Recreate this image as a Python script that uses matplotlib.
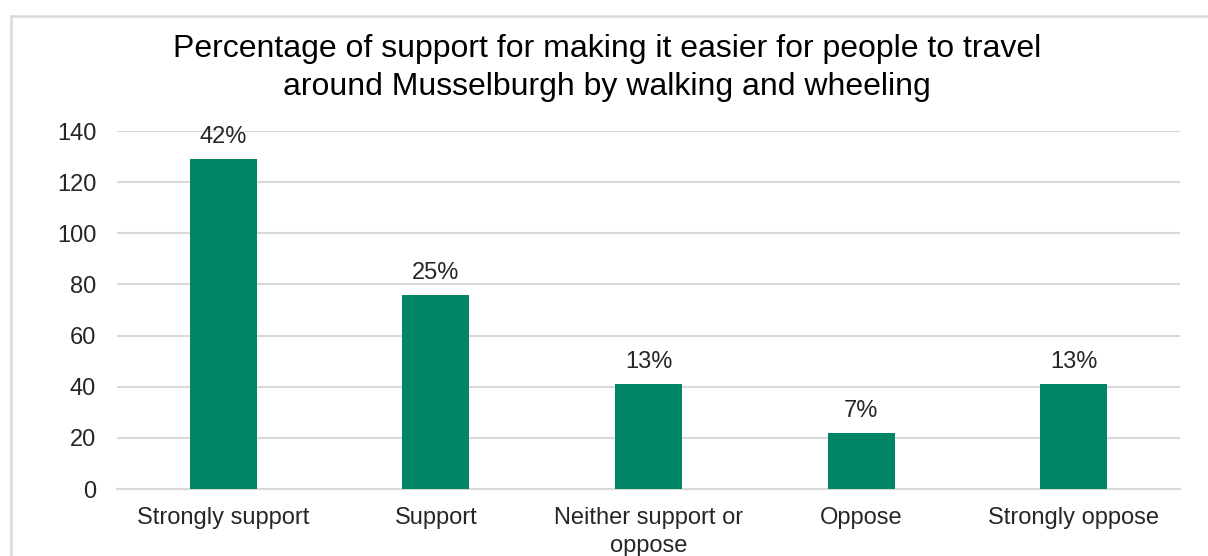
import matplotlib
matplotlib.use("Agg")
import matplotlib.pyplot as plt
from matplotlib.patches import Rectangle

plt.rcParams['font.family'] = ['Liberation Sans', 'DejaVu Sans']

categories = ["Strongly support", "Support", "Neither support or\noppose",
              "Oppose", "Strongly oppose"]
counts = [129, 76, 41, 22, 41]
pct_labels = ["42%", "25%", "13%", "7%", "13%"]
yticks = [0, 20, 40, 60, 80, 100, 120, 140]

W, H = 1208, 556
fig = plt.figure(figsize=(W / 100, H / 100), dpi=100)

# chart frame, cut off at the right and bottom
fig.patches.append(Rectangle((11 / W, -0.1), 1.2, 1.1 - 16 / H,
                             transform=fig.transFigure, fill=False,
                             edgecolor="#d9d9d9", linewidth=1.8))

ax = fig.add_axes([117 / W, 1 - 489 / H, (1180 - 117) / W, (489 - 131) / H])

x = range(len(categories))
bars = ax.bar(x, counts, width=0.315, color="#008566", zorder=3)

for b, lab in zip(bars, pct_labels):
    ax.annotate(lab, (b.get_x() + b.get_width() / 2, b.get_height()),
                xytext=(0, 8), textcoords="offset points",
                ha="center", va="bottom", fontsize=17, color="#262626")

ax.set_xlim(-0.5, len(categories) - 0.5)
ax.set_ylim(0, 140)
ax.set_yticks(yticks)
ax.set_xticks(list(x))
ax.set_xticklabels(categories, linespacing=1.35)
ax.tick_params(axis="both", length=0, labelsize=17, colors="#262626")
ax.tick_params(axis="y", pad=15)
ax.tick_params(axis="x", pad=13)
ax.yaxis.grid(True, color="#d9d9d9", linewidth=1.5, zorder=0)
ax.set_axisbelow(True)
for side in ["top", "right", "left"]:
    ax.spines[side].set_visible(False)
ax.spines["bottom"].set_color("#d9d9d9")
ax.spines["bottom"].set_linewidth(1.5)

fig.text(607 / W, 1 - 68 / H,
         "Percentage of support for making it easier for people to travel\n"
         "around Musselburgh by walking and wheeling",
         ha="center", va="center", fontsize=23, color="#000000",
         linespacing=1.35)

fig.savefig("out.png", dpi=100)
